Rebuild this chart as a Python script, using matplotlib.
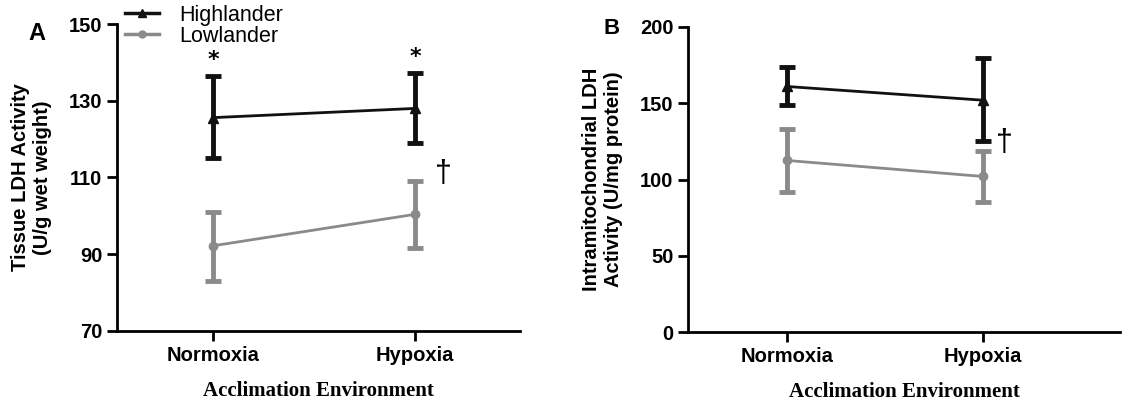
import matplotlib.pyplot as plt
from matplotlib.lines import Line2D

# data
conditions = ['Normoxia', 'Hypoxia']

tissue_high = [125.6, 128.0]
tissue_high_lo = [115.0, 119.0]
tissue_high_hi = [136.5, 137.2]
tissue_low = [92.2, 100.4]
tissue_low_lo = [83.0, 91.6]
tissue_low_hi = [101.0, 109.0]

mito_high = [161.0, 152.0]
mito_high_lo = [149.0, 125.0]
mito_high_hi = [174.0, 180.0]
mito_low = [112.5, 102.0]
mito_low_lo = [92.0, 85.5]
mito_low_hi = [133.0, 119.0]

BLACK = '#111111'
GREY = '#8a8a8a'
SANS = 'Liberation Sans'
SERIF = 'Liberation Serif'

fig = plt.figure(figsize=(11.23, 4.04), dpi=100)
axA = fig.add_axes([117/1123, 1-331/404, 403/1123, 307/404])
axB = fig.add_axes([688/1123, 1-332/404, 432/1123, 305/404])


def errs(mean, lo, hi):
    return [[m - l for m, l in zip(mean, lo)], [h - m for m, h in zip(mean, hi)]]


def draw(ax, high, hlo, hhi, low, llo, lhi, yticks):
    x = list(range(len(conditions)))
    ax.errorbar(x, low, yerr=errs(low, llo, lhi), color=GREY, marker='o', ms=6,
                lw=2, elinewidth=3.5, capsize=6, capthick=3.5)
    ax.errorbar(x, high, yerr=errs(high, hlo, hhi), color=BLACK, marker='^', ms=7,
                lw=2, elinewidth=3.5, capsize=6, capthick=3.5)
    ax.set_xticks(x)
    ax.set_xticklabels(conditions, fontsize=14.5, fontweight='bold', family=SANS)
    ax.set_ylim(yticks[0], yticks[-1])
    ax.set_yticks(yticks)
    ax.set_yticklabels([str(t) for t in yticks], fontsize=14.5, fontweight='bold', family=SANS)
    ax.spines['top'].set_visible(False)
    ax.spines['right'].set_visible(False)
    ax.spines['left'].set_linewidth(2)
    ax.spines['bottom'].set_linewidth(2)
    ax.tick_params(width=2, length=7)
    ax.set_xlabel('Acclimation Environment', fontsize=15, fontweight='bold',
                  family=SERIF, labelpad=12)


draw(axA, tissue_high, tissue_high_lo, tissue_high_hi, tissue_low, tissue_low_lo,
     tissue_low_hi, [70, 90, 110, 130, 150])
axA.set_xlim(-0.475, 1.52)
axA.set_ylabel('Tissue LDH Activity\n(U/g wet weight)', fontsize=14.5,
               fontweight='bold', family=SANS, labelpad=12)
for xi, top in zip([0, 1], tissue_high_hi):
    axA.text(xi, top + 1.5, '*', ha='center', va='bottom', fontsize=16, fontweight='bold')
axA.text(1.14, 111, '\u2020', ha='center', va='center', fontsize=22, family=SANS)

draw(axB, mito_high, mito_high_lo, mito_high_hi, mito_low, mito_low_lo,
     mito_low_hi, [0, 50, 100, 150, 200])
axB.set_xlim(-0.505, 1.70)
axB.set_ylabel('Intramitochondrial LDH\nActivity (U/mg protein)', fontsize=14.5,
               fontweight='bold', family=SANS, labelpad=12)
axB.text(1.11, 124, '\u2020', ha='center', va='center', fontsize=22, family=SANS)

handles = [Line2D([], [], color=BLACK, lw=2.5, marker='^', ms=6),
           Line2D([], [], color=GREY, lw=2.5, marker='o', ms=5)]
fig.legend(handles, ['Highlander', 'Lowlander'], loc='upper left',
           bbox_to_anchor=(125/1123, 1 - 5/404), frameon=False, borderpad=0,
           prop={'family': SANS, 'size': 15.5}, handlelength=1.6,
           borderaxespad=0, labelspacing=0.0, handletextpad=0.9)

fig.text(37/1123, 1-33/404, 'A', fontsize=17, fontweight='bold', family=SANS,
         ha='center', va='center')
fig.text(612/1123, 1-28/404, 'B', fontsize=16, fontweight='bold', family=SANS,
         ha='center', va='center')

fig.savefig('out.png', dpi=100)
